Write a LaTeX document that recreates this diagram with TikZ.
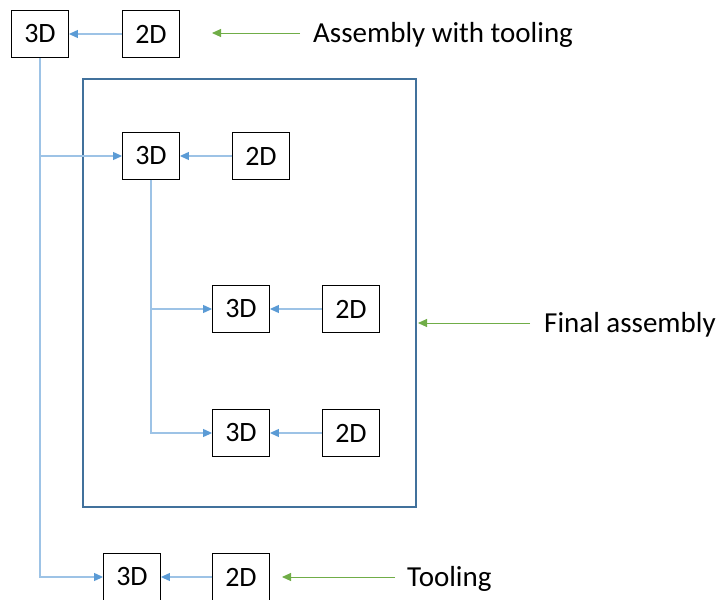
\documentclass[tikz,border=0pt]{standalone}
\usepackage{fontspec}
\setmainfont{Carlito}
\usetikzlibrary{arrows.meta}
\definecolor{linkblue}{HTML}{9DC3E6}
\definecolor{tipblue}{HTML}{5B9BD5}
\definecolor{framblue}{HTML}{41719C}
\definecolor{notegreen}{HTML}{70AD47}
\tikzset{
  part/.style={draw,line width=0.9pt,minimum width=57pt,minimum height=47pt,inner sep=0pt,font=\fontsize{28}{32}\selectfont},
  link/.style={linkblue,line width=1.2pt,-{Triangle[length=9pt,width=8pt,color=tipblue]}},
  note/.style={notegreen,line width=1pt,-{Triangle[length=9pt,width=8pt]}},
  caption/.style={anchor=west,inner sep=0pt,font=\fontsize{29}{33}\selectfont}
}
\begin{document}
\begin{tikzpicture}[x=1pt,y=-1pt]
\useasboundingbox (0,0) rectangle (721,600);
\draw[framblue,line width=2pt] (83,79) rectangle (416,507);
% assembly with tooling
\node[part] (a3) at (40,34) {3D};
\node[part] (a2) at (151,34) {2D};
% final assembly
\node[part] (b3) at (151,156) {3D};
\node[part] (b2) at (261,156) {2D};
\node[part] (c3) at (241,309) {3D};
\node[part] (c2) at (351,309) {2D};
\node[part] (d3) at (241,433) {3D};
\node[part] (d2) at (351,433) {2D};
% tooling
\node[part] (e3) at (132,577) {3D};
\node[part] (e2) at (241,577) {2D};
\foreach \p in {a,b,c,d,e} \draw[link] (\p2) -- (\p3);
\draw[link] (a3.south) |- (e3.west);
\draw[link] (a3.south |- b3) -- (b3.west);
\draw[link] (b3.south) |- (d3.west);
\draw[link] (b3.south |- c3) -- (c3.west);
% labels
\coordinate (na) at (300,33);
\coordinate (nb) at (530,323);
\coordinate (nc) at (395,577);
\node[caption] (ta) at (313,35) {Assembly with tooling};
\node[caption] (tb) at (544,325) {Final assembly};
\node[caption] (tc) at (407,579) {Tooling};
\draw[note] (na) -- (212,33);
\draw[note] (nb) -- (418,323);
\draw[note] (nc) -- (282,577);
\end{tikzpicture}
\end{document}
